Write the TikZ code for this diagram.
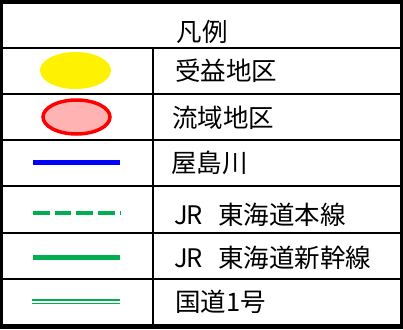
\documentclass[tikz,border=0pt]{standalone}
\usepackage{fontspec}
\newfontfamily\jp{Noto Sans CJK JP}
\definecolor{lgreen}{RGB}{0,176,80}
\definecolor{lpink}{RGB}{255,179,179}
\begin{document}
\begin{tikzpicture}[x=1pt,y=-1pt,
  lbl/.style={anchor=west,inner sep=0pt,font=\jp\fontsize{25.5}{28}\selectfont},
  grid/.style={line width=1.5pt,black}]
\useasboundingbox (0,0) rectangle (403,329);
\fill[black] (0,0) rectangle (403,329);
\fill[white] (3,4) rectangle (400,324);
% grid
\foreach \y in {48,94,140,186,233,279} \draw[grid] (3,\y) -- (400,\y);
\draw[grid] (153,48) -- (153,324);
% title
\node[inner sep=0pt,font=\jp\fontsize{25.5}{28}\selectfont] (title) at (202,31.5) {凡例};
% symbols
\fill[yellow] (75.5,70.5) ellipse [x radius=35.5, y radius=18.5];
\draw[red,fill=lpink,line width=3.5pt] (76.5,117) ellipse [x radius=33.5, y radius=17];
\draw[blue,line width=5pt] (33,162) -- (120,162);
\draw[lgreen,line width=4.5pt,dash pattern=on 16.7pt off 5pt] (33,213) -- (120,213);
\draw[lgreen,line width=5pt] (33,257) -- (120,257);
\draw[lgreen,line width=1.4pt] (32,299.8) -- (120,299.8);
\draw[lgreen,line width=1.4pt] (32,303.6) -- (120,303.6);
% labels
\node[lbl] (a) at (175,70.5) {受益地区};
\node[lbl] (b) at (172,118) {流域地区};
\node[lbl] (c) at (171,163) {屋島川};
\node[lbl] (d) at (174,215) {J\kern-0.05emR\hspace{0.6em}東海道本線};
\node[lbl] (e) at (174,258) {J\kern-0.05emR\hspace{0.6em}東海道新幹線};
\node[lbl] (f) at (175,302) {国道1号};
\end{tikzpicture}
\end{document}
